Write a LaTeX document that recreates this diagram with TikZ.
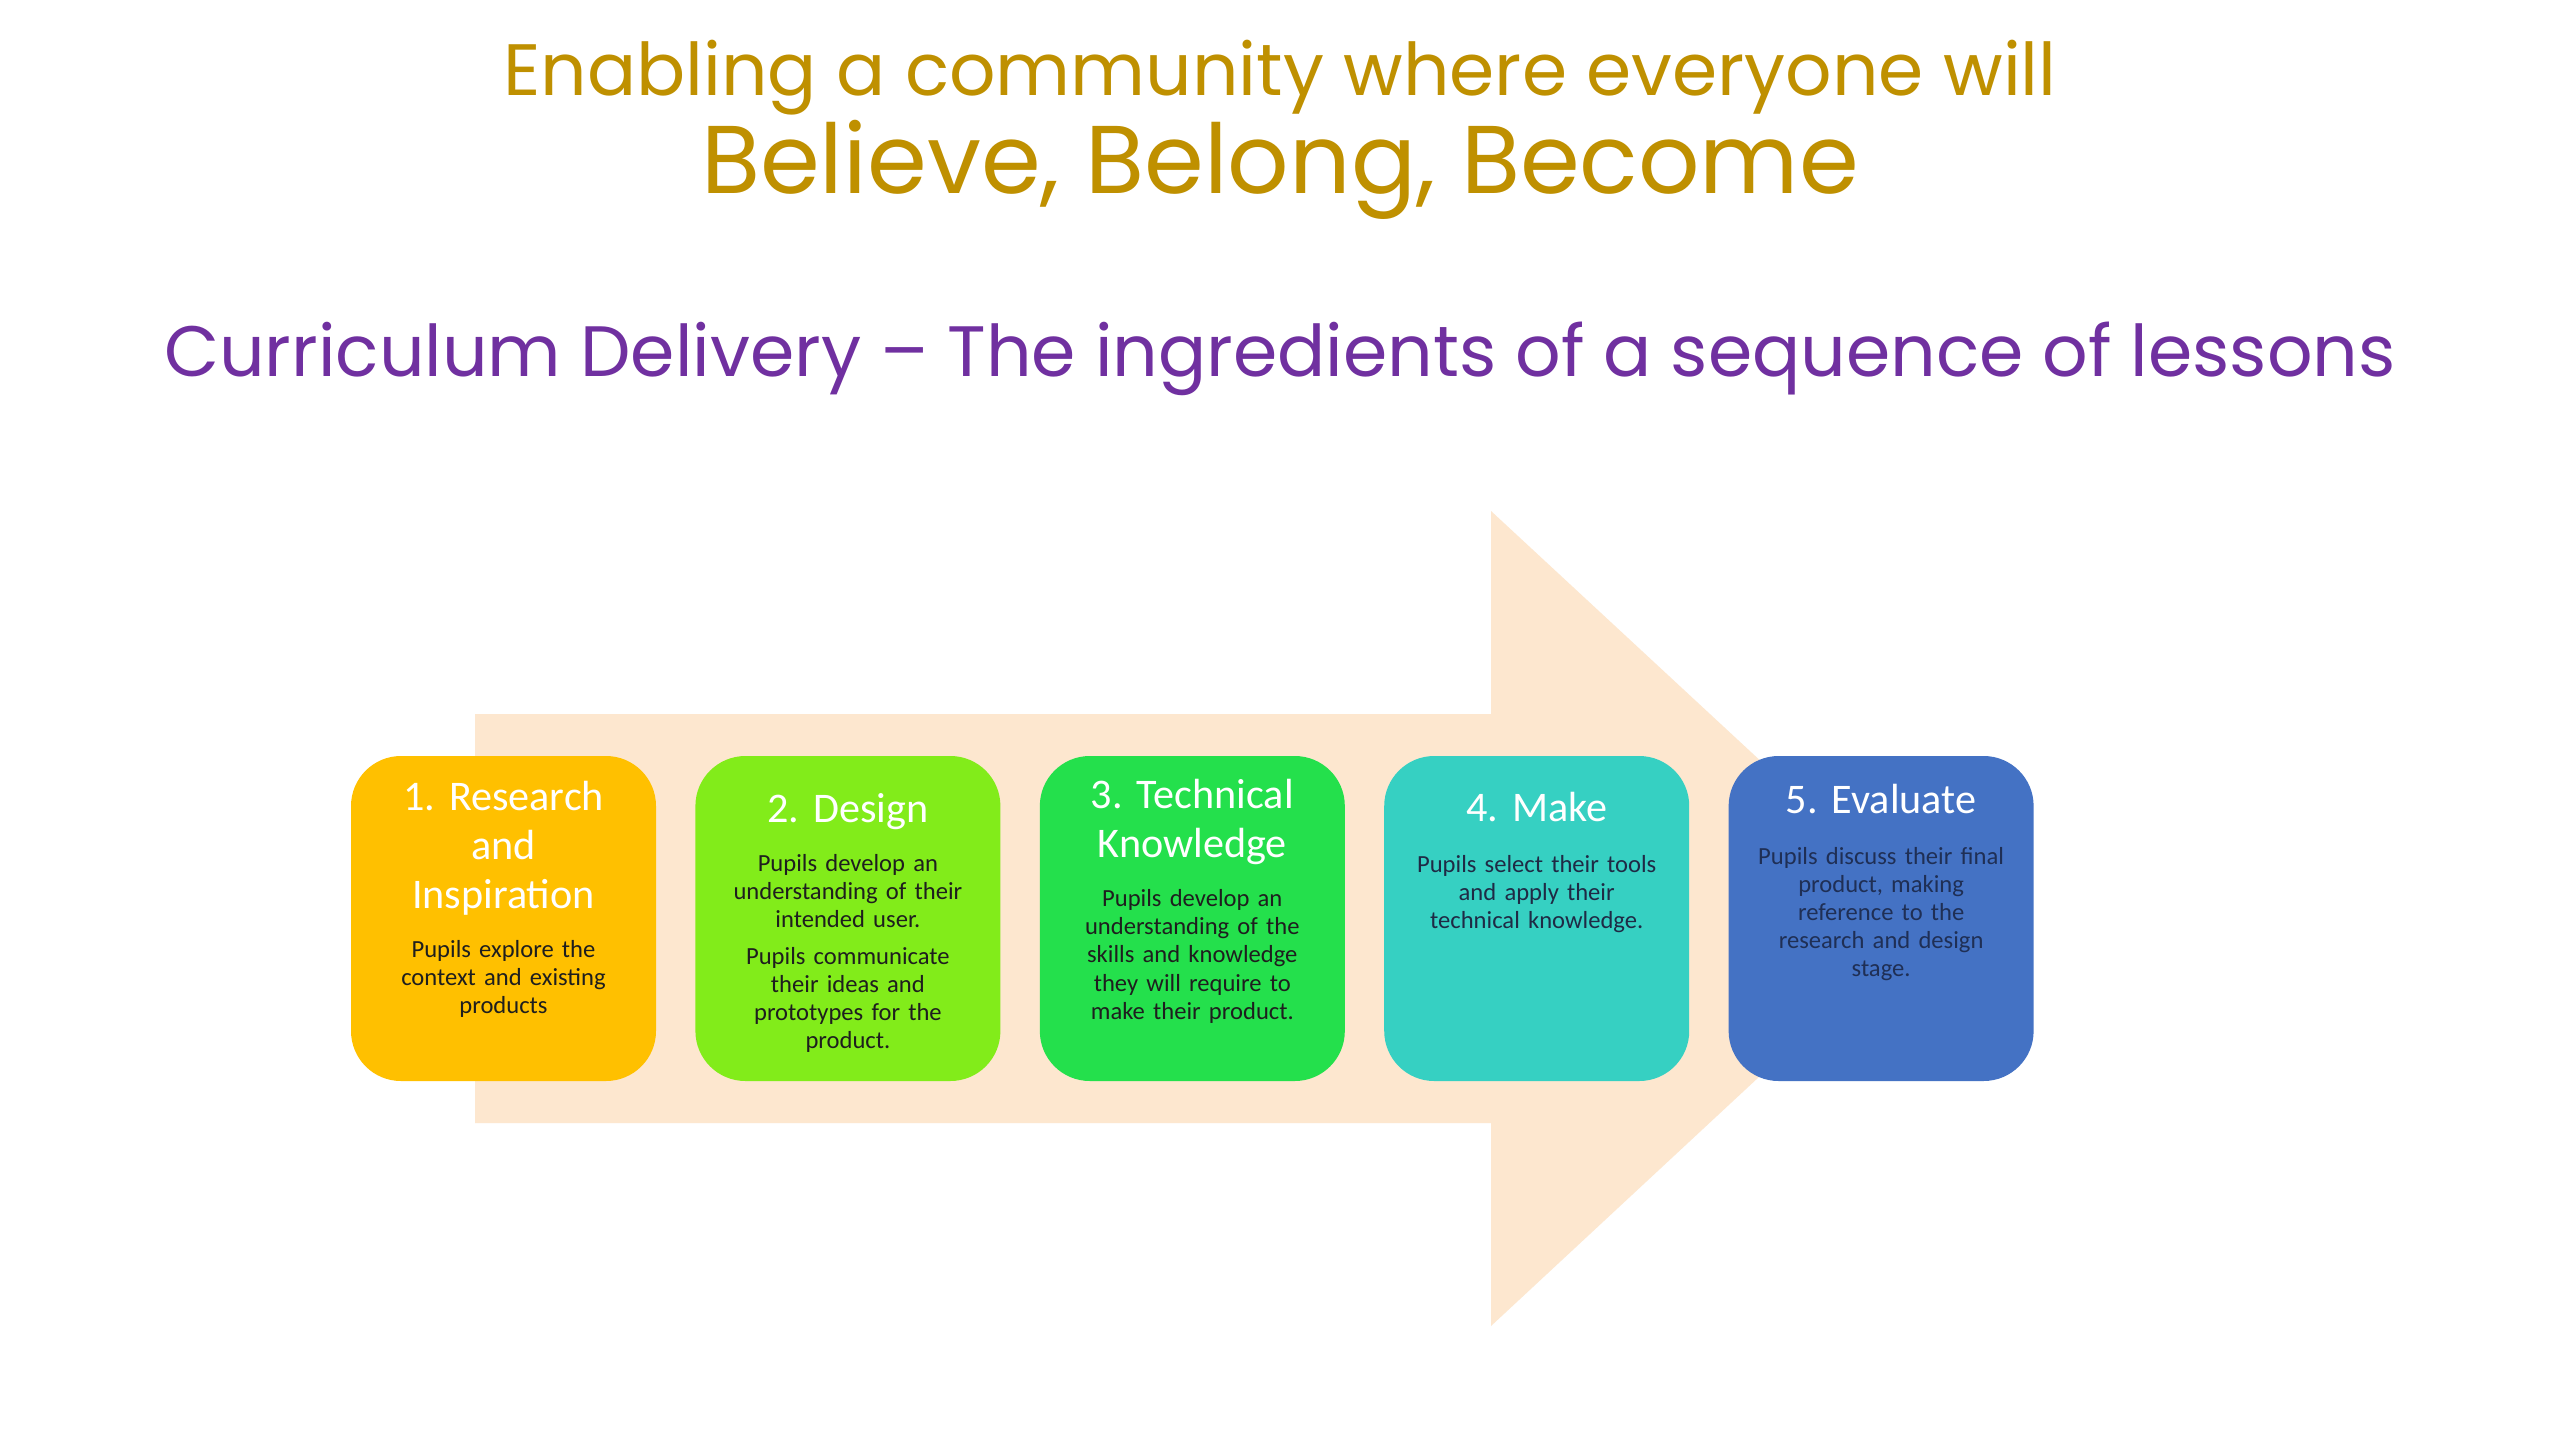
\documentclass[tikz,border=0pt]{standalone}
\usepackage{fontspec}
\setmainfont{Carlito}
\newfontfamily\headfont{Poppins}
\usepackage{tikz}
\usetikzlibrary{positioning}
\definecolor{gold}{HTML}{BF9000}
\definecolor{violet}{HTML}{7030A0}
\definecolor{peach}{HTML}{FDE7CF}
\definecolor{cA}{HTML}{FFC000}
\definecolor{cB}{HTML}{82EC1A}
\definecolor{cC}{HTML}{24E04C}
\definecolor{cD}{HTML}{36D0C2}
\definecolor{cE}{HTML}{4472C4}
\definecolor{ink}{HTML}{1E1E1E}
\definecolor{navy}{HTML}{1F2F55}

\begin{document}
\begin{tikzpicture}[
  stage/.style={rounded corners=5mm,minimum width=3.05cm,minimum height=3.25cm,inner sep=0pt},
  hd/.style={text width=2.9cm,align=center,inner sep=0pt,anchor=north,text=white,
    font=\frenchspacing\fontsize{12}{14}\selectfont},
  bd/.style={text width=2.9cm,align=center,inner sep=0pt,text=ink,
    font=\fontsize{7}{8}\selectfont}]
\useasboundingbox (0,0) rectangle (25.6,-14.4);
\fill[white] (0,0) rectangle (25.6,-14.4);
\node[anchor=base,text=gold,font=\headfont\fontsize{20.7}{25}\selectfont] (l1) at (12.8,-0.95) {Enabling a community where everyone will};
\node[anchor=base,text=gold,font=\headfont\fontsize{27.4}{33}\selectfont] (l2) at (12.8,-1.93) {Believe, Belong, Become};
\node[anchor=base,text=violet,font=\headfont\fontsize{20.3}{25}\selectfont] (l3) at (12.8,-3.76) {Curriculum Delivery – The ingredients of a sequence of lessons};
\fill[peach] (4.75,-7.14) -- (14.91,-7.14) -- (14.91,-5.11) -- (19.3,-9.18) -- (14.91,-13.26) -- (14.91,-11.23) -- (4.75,-11.23) -- cycle;
\node[stage,fill=cA] (s1) at (5.035,-9.185) {};
\node[stage,fill=cB,right=0.38cm of s1] (s2) {};
\node[stage,fill=cC,right=0.38cm of s2] (s3) {};
\node[stage,fill=cD,right=0.38cm of s3] (s4) {};
\node[stage,fill=cE,right=0.38cm of s4] (s5) {};
\node[hd,below=0.25cm of s1.north] (h1) {1. Research\\and\\Inspiration};
\node[hd,below=0.37cm of s2.north] (h2) {2. Design};
\node[hd,below=0.23cm of s3.north] (h3) {3. Technical\\Knowledge};
\node[hd,below=0.36cm of s4.north] (h4) {4. Make};
\node[hd,below=0.28cm of s5.north] (h5) {5. Evaluate};
\node[bd,below=0.235cm of h1] (d1) {Pupils explore the\\context and existing\\products};
\node[bd,below=0.235cm of h2] (d2) {Pupils develop an\\understanding of their\\intended user.\\[0.9mm]Pupils communicate\\their ideas and\\prototypes for the\\product.};
\node[bd,below=0.235cm of h3] (d3) {Pupils develop an\\understanding of the\\skills and knowledge\\they will require to\\make their product.};
\node[bd,below=0.32cm of h4,text=navy!70!ink] (d4) {Pupils select their tools\\and apply their\\technical knowledge.};
\node[bd,below=0.32cm of h5,text=navy] (d5) {Pupils discuss their final\\product, making\\reference to the\\research and design\\stage.};
\end{tikzpicture}
\end{document}
